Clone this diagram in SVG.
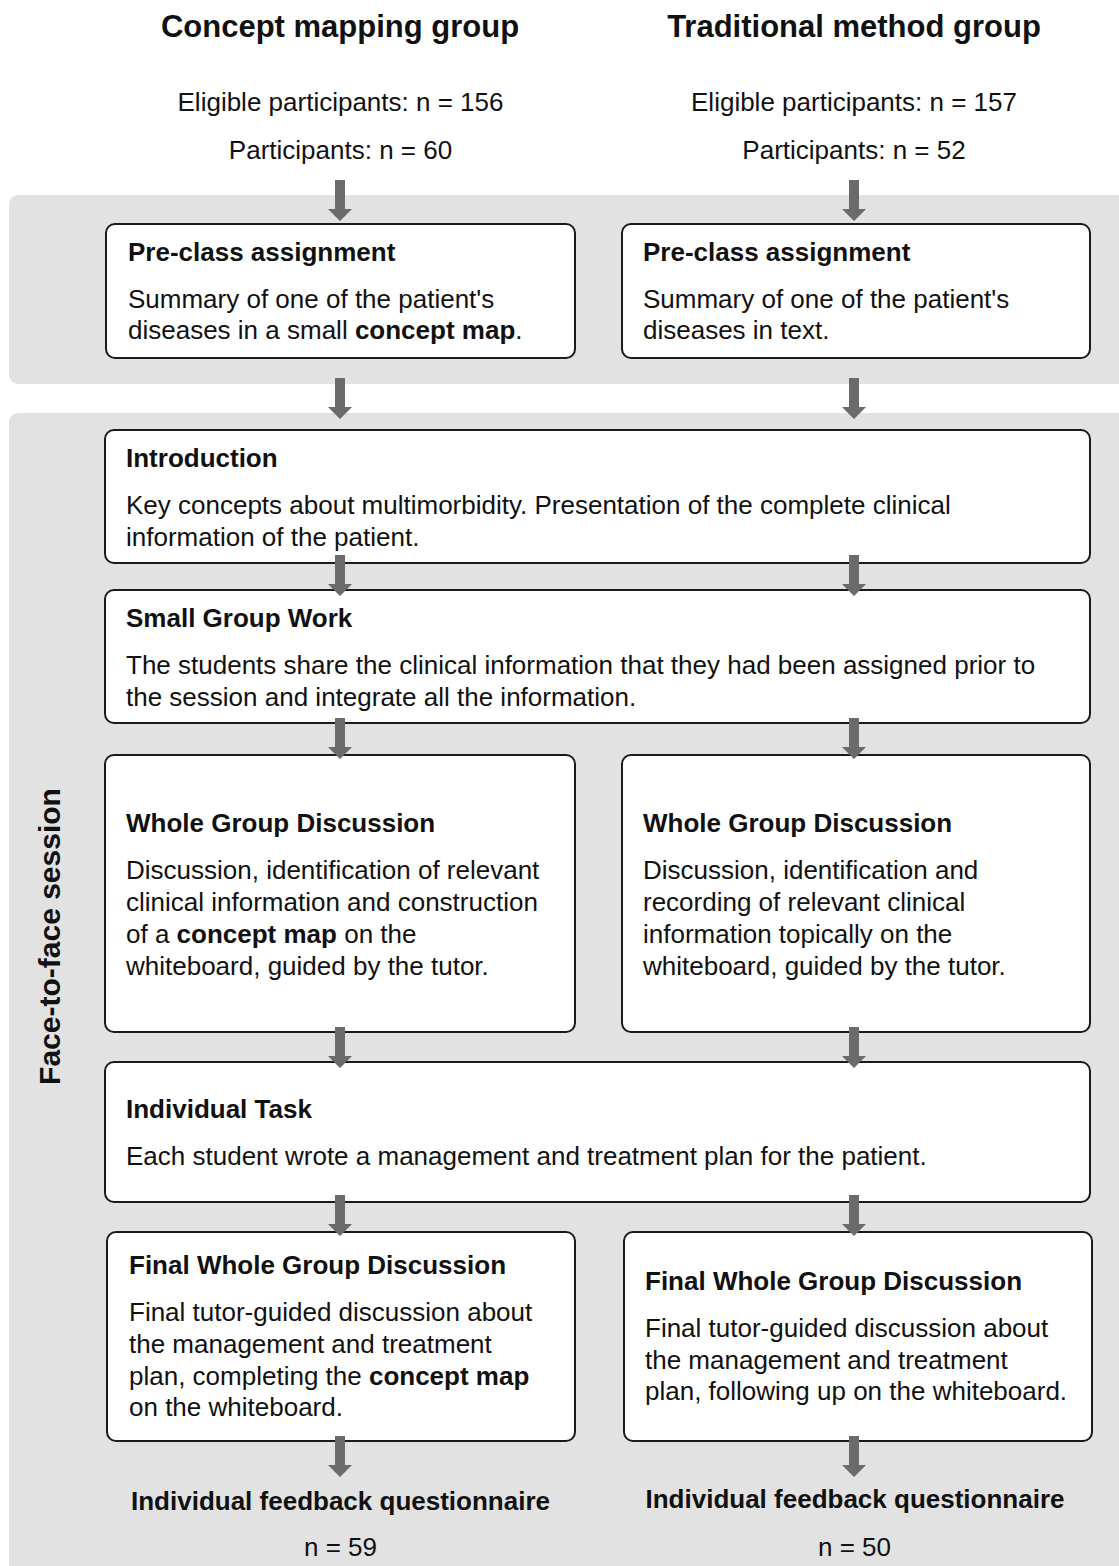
<svg xmlns="http://www.w3.org/2000/svg" xmlns:xlink="http://www.w3.org/1999/xlink" width="1119" height="1566" viewBox="0 0 1119 1566">
<defs>
<style>
text{font-family:"Liberation Sans",Arial,Helvetica,sans-serif;fill:#111;}
.t{font-size:31px;font-weight:bold;text-anchor:middle;}
.c{font-size:26px;text-anchor:middle;}
.cb{font-size:26px;font-weight:bold;text-anchor:middle;}
.h{font-size:26px;font-weight:bold;}
.b{font-size:26px;}
.bb{font-weight:bold;}
.v{font-size:30px;font-weight:bold;text-anchor:middle;}
.band{fill:#e2e2e2;}
.box{fill:#fff;stroke:#1a1a1a;stroke-width:2;}
.arr{fill:#6b6b6b;}
</style>
<path id="arr" class="arr" d="M-5,0 H5 V29 H12 L0,41 L-12,29 H-5 Z"/>
</defs>
<rect width="1119" height="1566" fill="#fff"/>
<g id="bands">
<rect class="band" x="9" y="195" width="1130" height="189" rx="9"/>
<rect class="band" x="9" y="413" width="1130" height="1180" rx="9"/>
</g>
<g id="header">
<text class="t" x="340" y="37">Concept mapping group</text>
<text class="t" x="854" y="37">Traditional method group</text>
<text class="c" x="340.5" y="111">Eligible participants: n = 156</text>
<text class="c" x="854" y="111">Eligible participants: n = 157</text>
<text class="c" x="340.5" y="159">Participants: n = 60</text>
<text class="c" x="854" y="159">Participants: n = 52</text>
</g>
<text class="v" transform="translate(60,936.5) rotate(-90)">Face-to-face session</text>
<g id="pre-left">
<rect class="box" x="106" y="224" width="469" height="134" rx="9"/>
<text class="h" x="128" y="261">Pre-class assignment</text>
<text class="b" x="128" y="308">Summary of one of the patient's</text>
<text class="b" x="128" y="339">diseases in a small <tspan class="bb">concept map</tspan>.</text>
</g>
<g id="pre-right">
<rect class="box" x="622" y="224" width="468" height="134" rx="9"/>
<text class="h" x="643" y="261">Pre-class assignment</text>
<text class="b" x="643" y="308">Summary of one of the patient's</text>
<text class="b" x="643" y="339">diseases in text.</text>
</g>
<g id="introduction">
<rect class="box" x="105" y="430" width="985" height="133" rx="9"/>
<text class="h" x="126" y="467">Introduction</text>
<text class="b" x="126" y="514">Key concepts about multimorbidity. Presentation of the complete clinical</text>
<text class="b" x="126" y="546">information of the patient.</text>
</g>
<g id="small-group">
<rect class="box" x="105" y="590" width="985" height="133" rx="9"/>
<text class="h" x="126" y="627">Small Group Work</text>
<text class="b" x="126" y="674">The students share the clinical information that they had been assigned prior to</text>
<text class="b" x="126" y="706">the session and integrate all the information.</text>
</g>
<g id="wgd-left">
<rect class="box" x="105" y="755" width="470" height="277" rx="9"/>
<text class="h" x="126" y="832">Whole Group Discussion</text>
<text class="b" x="126" y="879">Discussion, identification of relevant</text>
<text class="b" x="126" y="911">clinical information and construction</text>
<text class="b" x="126" y="943">of a <tspan class="bb">concept map</tspan> on the</text>
<text class="b" x="126" y="975">whiteboard, guided by the tutor.</text>
</g>
<g id="wgd-right">
<rect class="box" x="622" y="755" width="468" height="277" rx="9"/>
<text class="h" x="643" y="832">Whole Group Discussion</text>
<text class="b" x="643" y="879">Discussion, identification and</text>
<text class="b" x="643" y="911">recording of relevant clinical</text>
<text class="b" x="643" y="943">information topically on the</text>
<text class="b" x="643" y="975">whiteboard, guided by the tutor.</text>
</g>
<g id="individual-task">
<rect class="box" x="105" y="1062" width="985" height="140" rx="9"/>
<text class="h" x="126" y="1118">Individual Task</text>
<text class="b" x="126" y="1165">Each student wrote a management and treatment plan for the patient.</text>
</g>
<g id="final-left">
<rect class="box" x="107" y="1232" width="468" height="209" rx="9"/>
<text class="h" x="129" y="1274">Final Whole Group Discussion</text>
<text class="b" x="129" y="1321">Final tutor-guided discussion about</text>
<text class="b" x="129" y="1353">the management and treatment</text>
<text class="b" x="129" y="1385">plan, completing the <tspan class="bb">concept map</tspan></text>
<text class="b" x="129" y="1416">on the whiteboard.</text>
</g>
<g id="final-right">
<rect class="box" x="624" y="1232" width="468" height="209" rx="9"/>
<text class="h" x="645" y="1290">Final Whole Group Discussion</text>
<text class="b" x="645" y="1337">Final tutor-guided discussion about</text>
<text class="b" x="645" y="1369">the management and treatment</text>
<text class="b" x="645" y="1400">plan, following up on the whiteboard.</text>
</g>
<g id="feedback-left">
<text class="cb" x="340.5" y="1510">Individual feedback questionnaire</text>
<text class="c" x="340.5" y="1556">n = 59</text>
</g>
<g id="feedback-right">
<text class="cb" x="855" y="1508">Individual feedback questionnaire</text>
<text class="c" x="854.5" y="1556">n = 50</text>
</g>
<g id="connectors">
<use xlink:href="#arr" x="340" y="180"/>
<use xlink:href="#arr" x="854" y="180"/>
<use xlink:href="#arr" x="340" y="378"/>
<use xlink:href="#arr" x="854" y="378"/>
<use xlink:href="#arr" x="340" y="555"/>
<use xlink:href="#arr" x="854" y="555"/>
<use xlink:href="#arr" x="340" y="718"/>
<use xlink:href="#arr" x="854" y="718"/>
<use xlink:href="#arr" x="340" y="1027"/>
<use xlink:href="#arr" x="854" y="1027"/>
<use xlink:href="#arr" x="340" y="1195"/>
<use xlink:href="#arr" x="854" y="1195"/>
<use xlink:href="#arr" x="340" y="1436"/>
<use xlink:href="#arr" x="854" y="1436"/>
</g>
</svg>
